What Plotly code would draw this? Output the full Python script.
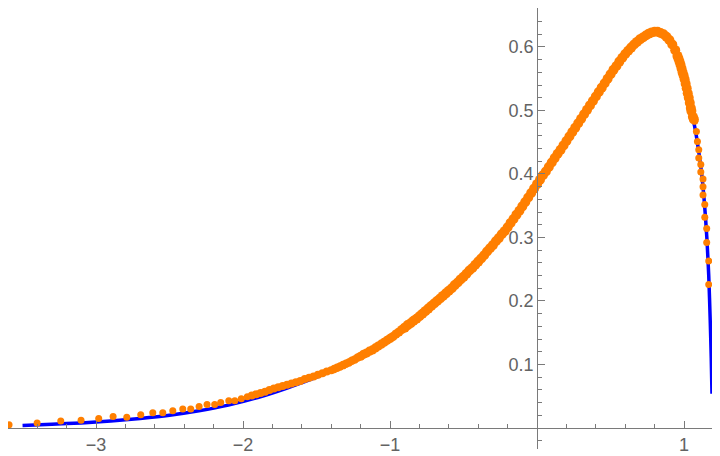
import plotly.graph_objects as go

# Orange sample points
tail_x = [-3.592, -3.401, -3.240, -3.102, -2.982, -2.884, -2.791, -2.696, -2.614, -2.546,
          -2.478, -2.410, -2.356, -2.299, -2.245, -2.193, -2.152, -2.097, -2.056, -2.012, -1.971]
tail_y = [0.005, 0.008, 0.011, 0.012, 0.015, 0.018, 0.017, 0.021, 0.024, 0.024,
          0.027, 0.030, 0.030, 0.034, 0.037, 0.037, 0.040, 0.043, 0.043, 0.046, 0.049]

mid_x = [-1.94, -1.91, -1.88, -1.85, -1.82, -1.79, -1.76, -1.73, -1.70, -1.67,
         -1.64, -1.61, -1.58, -1.55, -1.52, -1.49, -1.46, -1.43, -1.40]
mid_y = [0.051, 0.053, 0.055, 0.057, 0.060, 0.062, 0.064, 0.066, 0.068, 0.070,
         0.072, 0.074, 0.077, 0.079, 0.081, 0.084, 0.086, 0.089, 0.091]

body_x = [-1.38, -1.36, -1.34, -1.32, -1.30, -1.28, -1.26, -1.24, -1.22, -1.20,
          -1.18, -1.16, -1.14, -1.12, -1.10, -1.08, -1.06, -1.04, -1.02, -1.00,
          -0.98, -0.96, -0.94, -0.92, -0.90, -0.88, -0.86, -0.84, -0.82, -0.80,
          -0.78, -0.76, -0.74, -0.72, -0.70, -0.68, -0.66, -0.64, -0.62, -0.60,
          -0.58, -0.56, -0.54, -0.52, -0.50, -0.48, -0.46, -0.44, -0.42, -0.40,
          -0.38, -0.36, -0.34, -0.32, -0.30, -0.28, -0.26, -0.24, -0.22, -0.20,
          -0.18, -0.16, -0.14, -0.12, -0.10, -0.08, -0.06, -0.04, -0.02, 0.00,
          0.02, 0.04, 0.06, 0.08, 0.10, 0.12, 0.14, 0.16, 0.18, 0.20,
          0.22, 0.24, 0.26, 0.28, 0.30, 0.32, 0.34, 0.36, 0.38, 0.40,
          0.42, 0.44, 0.46, 0.48, 0.50, 0.52, 0.54, 0.56, 0.58, 0.60,
          0.62, 0.64, 0.66, 0.68, 0.70, 0.72, 0.74, 0.76, 0.78, 0.80,
          0.82, 0.84, 0.86, 0.88, 0.90, 0.92, 0.94]
body_y = [0.093, 0.095, 0.097, 0.099, 0.101, 0.103, 0.106, 0.108, 0.111, 0.113,
          0.116, 0.118, 0.121, 0.123, 0.126, 0.129, 0.132, 0.135, 0.138, 0.141,
          0.144, 0.148, 0.151, 0.155, 0.158, 0.162, 0.165, 0.169, 0.172, 0.176,
          0.180, 0.184, 0.188, 0.192, 0.196, 0.200, 0.204, 0.208, 0.212, 0.216,
          0.220, 0.225, 0.229, 0.234, 0.238, 0.243, 0.248, 0.252, 0.257, 0.262,
          0.267, 0.272, 0.278, 0.283, 0.288, 0.294, 0.299, 0.305, 0.310, 0.316,
          0.323, 0.329, 0.336, 0.342, 0.349, 0.356, 0.363, 0.370, 0.377, 0.384,
          0.391, 0.398, 0.404, 0.411, 0.418, 0.425, 0.432, 0.438, 0.445, 0.452,
          0.459, 0.466, 0.473, 0.480, 0.487, 0.494, 0.501, 0.508, 0.515, 0.522,
          0.529, 0.536, 0.543, 0.550, 0.557, 0.564, 0.570, 0.577, 0.583, 0.589,
          0.594, 0.599, 0.604, 0.608, 0.612, 0.615, 0.618, 0.621, 0.623, 0.624,
          0.624, 0.622, 0.620, 0.616, 0.611, 0.604, 0.595]

drop_x = [0.955, 0.962, 0.969, 0.976, 0.983, 0.990, 0.997, 1.004, 1.011, 1.018,
          1.025, 1.032, 1.039, 1.046, 1.050, 1.060, 1.067]
drop_y = [0.586, 0.582, 0.577, 0.572, 0.566, 0.560, 0.555, 0.549, 0.542, 0.535,
          0.527, 0.520, 0.512, 0.504, 0.499, 0.490, 0.486]

steep_x = [1.073, 1.084, 1.091, 1.100, 1.100, 1.114, 1.114, 1.129, 1.129, 1.129,
           1.141, 1.141, 1.154, 1.154, 1.168, 1.168]
steep_y = [0.483, 0.467, 0.451, 0.438, 0.425, 0.415, 0.403, 0.392, 0.380, 0.367,
           0.352, 0.332, 0.314, 0.292, 0.263, 0.226]

# Blue fitted curve
curve_x = [-3.5, -3.3, -3.1, -2.9, -2.7, -2.5, -2.3, -2.1, -1.9, -1.7, -1.5, -1.3, -1.1,
           -0.9, -0.7, -0.5, -0.3, -0.1, 0.0, 0.1, 0.2, 0.3, 0.4, 0.5, 0.6, 0.7, 0.75,
           0.8, 0.85, 0.9, 0.95, 1.0, 1.05, 1.08, 1.10, 1.12, 1.14, 1.155, 1.168,
           1.178, 1.185, 1.19]
curve_y = [0.004, 0.006, 0.008, 0.011, 0.015, 0.020, 0.027, 0.036, 0.048, 0.063, 0.080,
           0.100, 0.125, 0.157, 0.195, 0.237, 0.288, 0.348, 0.384, 0.418, 0.452, 0.487,
           0.522, 0.557, 0.589, 0.612, 0.620, 0.624, 0.621, 0.611, 0.589, 0.553, 0.500,
           0.465, 0.435, 0.400, 0.350, 0.300, 0.240, 0.170, 0.110, 0.054]

x_ticks = [-3, -2, -1, 1]
x_labels = ["\u22123", "\u22122", "\u22121", "1"]
y_ticks = [0.1, 0.2, 0.3, 0.4, 0.5, 0.6]
y_labels = ["0.1", "0.2", "0.3", "0.4", "0.5", "0.6"]

XMIN, XMAX = -3.599, 1.299
YMIN, YMAX = -0.0331, 0.6614

x_minor = [round(-3.6 + 0.2 * i, 2) for i in range(25)]
x_minor = [v for v in x_minor if abs(v - round(v)) > 1e-6]
y_minor = [round(-0.02 + 0.02 * i, 2) for i in range(35)]
y_minor = [v for v in y_minor if abs(v * 10 - round(v * 10)) > 1e-6]

AX = "#7a7a7a"
LAB = "#636363"
ORANGE = "#ff7f00"
FONT = dict(family="Liberation Sans, Arial, sans-serif", size=18, color=LAB)

# marker sizes grow gently where the sample gets denser (visual band thickness)
body_sizes = [8.5 if v < -1.2 else (9.2 if v < -0.9 else 10) for v in body_x]

fig = go.Figure()
fig.add_trace(go.Scatter(x=curve_x, y=curve_y, mode="lines",
                         line=dict(color="#0000ff", width=3.5, shape="spline", smoothing=0.6),
                         hoverinfo="skip", showlegend=False))
for xs, ys, sz in [(tail_x, tail_y, 7), (mid_x, mid_y, 8), (body_x, body_y, body_sizes),
                   (drop_x, drop_y, 10), (steep_x, steep_y, 7)]:
    fig.add_trace(go.Scatter(x=xs, y=ys, mode="markers",
                             marker=dict(color=ORANGE, size=sz, opacity=1,
                                         line=dict(width=0)),
                             showlegend=False))

fig.update_layout(
    width=720, height=456,
    margin=dict(l=0, r=0, t=0, b=15, pad=0, autoexpand=False),
    paper_bgcolor="white", plot_bgcolor="white",
    showlegend=False,
    font=FONT,
    xaxis=dict(range=[XMIN, XMAX], anchor="free", automargin=False,
               position=(0 - YMIN) / (YMAX - YMIN),
               showgrid=False, zeroline=False, showline=True, linecolor=AX, linewidth=1,
               tickmode="array", tickvals=x_ticks, ticktext=x_labels,
               ticks="inside", ticklen=7, tickcolor=AX, tickwidth=1,
               minor=dict(tickmode="array", tickvals=x_minor, ticks="inside",
                          ticklen=4, tickcolor=AX, tickwidth=1, showgrid=False),
               tickfont=FONT),
    yaxis=dict(range=[YMIN, YMAX], anchor="free", automargin=False,
               position=(0 - XMIN) / (XMAX - XMIN),
               showgrid=False, zeroline=False, showline=True, linecolor=AX, linewidth=1,
               tickmode="array", tickvals=y_ticks, ticktext=y_labels,
               ticks="inside", ticklen=7, tickcolor=AX, tickwidth=1,
               minor=dict(tickmode="array", tickvals=y_minor, ticks="inside",
                          ticklen=4, tickcolor=AX, tickwidth=1, showgrid=False),
               tickfont=FONT),
)

fig.write_html("out.html")
